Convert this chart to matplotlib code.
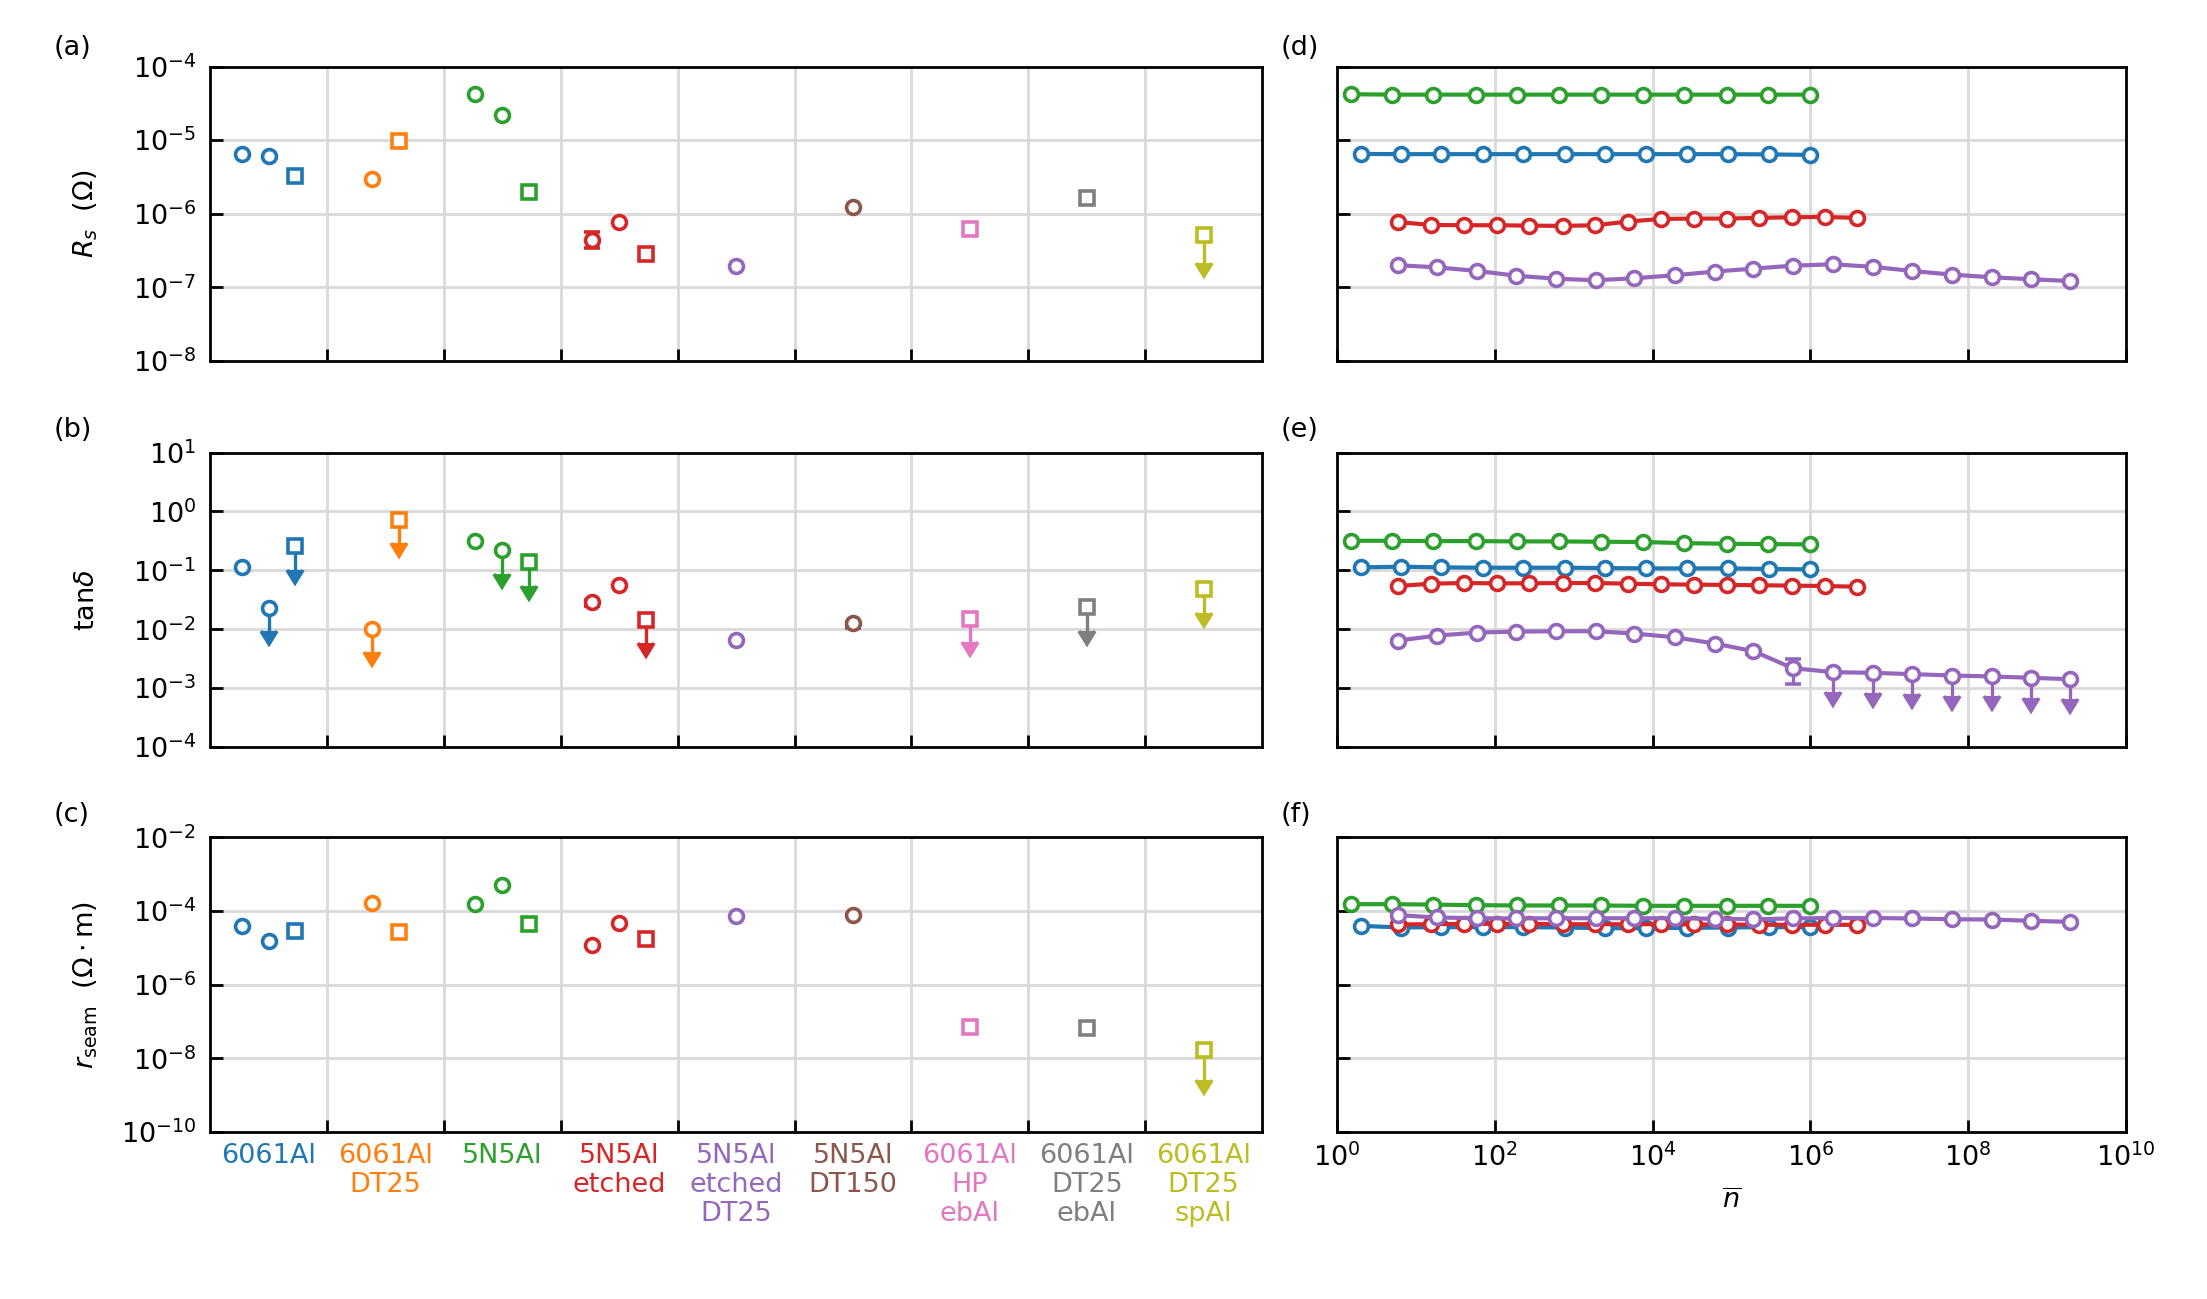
import numpy as np
import matplotlib
matplotlib.use("Agg")
import matplotlib.pyplot as plt
from matplotlib.ticker import NullLocator, FixedLocator

plt.rcParams['font.family'] = ['DejaVu Sans']
plt.rcParams['font.size'] = 19.5
plt.rcParams['mathtext.fontset'] = 'dejavusans'

# %% Data
categories = ['6061Al', '6061Al\nDT25', '5N5Al', '5N5Al\netched',
              '5N5Al\netched\nDT25', '5N5Al\nDT150', '6061Al\nHP\nebAl',
              '6061Al\nDT25\nebAl', '6061Al\nDT25\nspAl']
cat_colors = ['#1f77b4', '#ff7f0e', '#2ca02c', '#d62728', '#9467bd',
              '#8c564b', '#e377c2', '#7f7f7f', '#bcbd22']
cat_markers = [['o', 'o', 's'], ['o', 's'], ['o', 'o', 's'], ['o', 'o', 's'],
               ['o'], ['o'], ['s'], ['s'], ['s']]

rs_vals = [[6.5e-6, 6.0e-6, 3.3e-6], [3.0e-6, 9.8e-6], [4.2e-5, 2.18e-5, 1.95e-6],
           [4.4e-7, 7.7e-7, 2.8e-7], [1.98e-7], [1.23e-6], [6.25e-7], [1.62e-6], [5.2e-7]]
rs_uplim = [[0, 0, 0], [0, 0], [0, 0, 0], [0, 0, 0], [0], [0], [0], [0], [1]]
rs_bounds = {(3, 0): (3.4e-7, 5.6e-7)}

tan_vals = [[0.114, 0.0233, 0.258], [0.0102, 0.73], [0.314, 0.218, 0.138],
            [0.029, 0.0557, 0.0144], [0.0066], [0.0128], [0.0151], [0.0236], [0.048]]
tan_uplim = [[0, 1, 1], [1, 1], [0, 1, 1], [0, 0, 1], [0], [0], [1], [1], [1]]
tan_bounds = {(3, 0): (2.5e-2, 3.1e-2), (5, 0): (1.05e-2, 1.35e-2)}

rseam_vals = [[3.9e-5, 1.57e-5, 2.8e-5], [1.62e-4, 2.65e-5], [1.52e-4, 5.1e-4, 4.5e-5],
              [1.2e-5, 4.7e-5, 1.78e-5], [7.3e-5], [7.7e-5], [6.9e-8], [6.5e-8], [1.65e-8]]
rseam_uplim = [[0, 0, 0], [0, 0], [0, 0, 0], [0, 0, 0], [0], [0], [0], [0], [1]]
rseam_bounds = {}

# number of photons n-bar for the power sweeps
n_blue = [2.0, 6.5, 21, 71, 229, 776, 2510, 8300, 2.75e4, 9.1e4, 3.0e5, 1.0e6]
n_green = [1.5, 5.0, 16.7, 57, 190, 646, 2240, 7590, 2.5e4, 8.7e4, 2.9e5, 9.8e5]
n_red = [5.9, 15.5, 41, 107, 275, 724, 1860, 4900, 1.26e4, 3.3e4, 8.7e4, 2.24e5,
         5.9e5, 1.51e6, 3.9e6]
n_purple = [5.9, 18.6, 60, 186, 603, 1905, 5890, 1.9e4, 6.2e4, 1.9e5, 6.0e5, 1.95e6,
            6.2e6, 1.95e7, 6.2e7, 2.0e8, 6.2e8, 1.95e9]

rs_blue = [6.5e-6, 6.45e-6, 6.45e-6, 6.45e-6, 6.45e-6, 6.45e-6, 6.45e-6, 6.45e-6,
           6.45e-6, 6.45e-6, 6.4e-6, 6.3e-6]
rs_green = [4.2e-5, 4.15e-5, 4.15e-5, 4.15e-5, 4.15e-5, 4.15e-5, 4.15e-5, 4.15e-5,
            4.15e-5, 4.15e-5, 4.15e-5, 4.15e-5]
rs_red = [7.7e-7, 7.05e-7, 6.98e-7, 6.98e-7, 6.9e-7, 6.84e-7, 6.98e-7, 7.83e-7,
          8.5e-7, 8.6e-7, 8.6e-7, 8.78e-7, 8.96e-7, 9.05e-7, 8.78e-7]
rs_purple = [2.0e-7, 1.87e-7, 1.67e-7, 1.44e-7, 1.31e-7, 1.25e-7, 1.33e-7, 1.46e-7,
             1.64e-7, 1.80e-7, 1.97e-7, 2.06e-7, 1.90e-7, 1.67e-7, 1.49e-7, 1.37e-7,
             1.29e-7, 1.22e-7]

tan_blue = [0.1125, 0.1154, 0.1125, 0.111, 0.111, 0.111, 0.1095, 0.108, 0.108, 0.108,
            0.1055, 0.104]
tan_green = [0.318, 0.318, 0.314, 0.314, 0.31, 0.31, 0.306, 0.303, 0.29, 0.283, 0.279, 0.276]
tan_red = [0.0542, 0.0594, 0.061, 0.0602, 0.0602, 0.061, 0.061, 0.0594, 0.058, 0.0573,
           0.0566, 0.0559, 0.0551, 0.0542, 0.0528]
tan_purple = [0.00643, 0.00781, 0.00879, 0.00913, 0.00925, 0.00925, 0.00845, 0.00732,
              0.00571, 0.00424, 0.00218, 0.00187, 0.00182, 0.00173, 0.00164, 0.00158,
              0.0015, 0.00142]
tan_purple_uplim = [0] * 11 + [1] * 7
tan_purple_bounds = {0: (6.0e-3, 6.7e-3), 9: (3.85e-3, 4.5e-3), 10: (1.18e-3, 3.14e-3)}

rseam_blue = [3.98e-5, 3.58e-5, 3.66e-5, 3.66e-5, 3.66e-5, 3.58e-5, 3.43e-5, 3.43e-5,
              3.5e-5, 3.58e-5, 3.66e-5, 3.66e-5]
rseam_green = [1.54e-4, 1.54e-4, 1.5e-4, 1.45e-4, 1.42e-4, 1.42e-4, 1.42e-4, 1.39e-4,
               1.39e-4, 1.39e-4, 1.39e-4, 1.39e-4]
rseam_red = [4.33e-5, 4.4e-5, 4.5e-5, 4.5e-5, 4.5e-5, 4.4e-5, 4.4e-5, 4.4e-5, 4.4e-5,
             4.33e-5, 4.33e-5, 4.24e-5, 4.24e-5, 4.24e-5, 4.24e-5]
rseam_purple = [7.76e-5, 6.7e-5, 6.4e-5, 6.3e-5, 6.4e-5, 6.4e-5, 6.4e-5, 6.4e-5, 6.16e-5,
                6.0e-5, 6.3e-5, 6.5e-5, 6.5e-5, 6.3e-5, 6.0e-5, 5.9e-5, 5.44e-5, 5.1e-5]

# %% Styles
MS = 10
MEW = 2.6
CAP = 6
GRID = '#d9d9d9'


def style_axes(ax, ylim, yticks):
    ax.set_yscale('log')
    ax.set_ylim(*ylim)
    ax.set_yticks(yticks)
    ax.yaxis.set_minor_locator(NullLocator())
    for s in ax.spines.values():
        s.set_linewidth(2)
    ax.tick_params(which='major', direction='in', length=9, width=2, pad=10)
    ax.grid(True, which='major', color=GRID, lw=2)
    ax.set_axisbelow(True)


def left_panel(ax, vals, uplims, bounds, arrow_dec):
    for ci in range(len(vals)):
        vv = vals[ci]
        k = len(vv)
        offs = (np.arange(k) - (k - 1) / 2) * 0.23
        col = cat_colors[ci]
        for j in range(k):
            x = ci + 0.5 + offs[j]
            y = vv[j]
            if uplims[ci][j]:
                err = [[y * (1 - 10 ** -arrow_dec)], [0.0]]
                ax.errorbar([x], [y], yerr=err, uplims=[True], fmt=cat_markers[ci][j],
                            color=col, mfc='white', ms=MS, mew=MEW, elinewidth=2.4,
                            capsize=CAP, capthick=2.4)
            elif (ci, j) in bounds:
                lo, hi = bounds[(ci, j)]
                ax.errorbar([x], [y], yerr=[[y - lo], [hi - y]], fmt=cat_markers[ci][j],
                            color=col, mfc='white', ms=MS, mew=MEW, elinewidth=2.4,
                            capsize=CAP, capthick=2.4)
            else:
                ax.plot([x], [y], cat_markers[ci][j], color=col, mfc='white',
                        ms=MS, mew=MEW)
    ax.set_xlim(0, len(vals))
    ax.xaxis.set_major_locator(FixedLocator(np.arange(1, len(vals))))
    ax.xaxis.set_minor_locator(FixedLocator(np.arange(len(vals)) + 0.5))
    ax.tick_params(axis='x', which='major', labelbottom=False)
    ax.tick_params(axis='x', which='minor', length=0)
    ax.set_xticklabels([], minor=True)


def right_panel(ax, series):
    for n, y, col in series:
        ax.plot(n, y, '-o', color=col, lw=3, mfc='white', ms=MS, mew=MEW)
    ax.set_xscale('log')
    ax.set_xlim(1, 1e10)
    ax.set_xticks([1e0, 1e2, 1e4, 1e6, 1e8, 1e10])
    ax.xaxis.set_minor_locator(NullLocator())
    ax.tick_params(axis='x', labelbottom=False)
    ax.tick_params(axis='y', labelleft=False)


fig = plt.figure(figsize=(22.07, 12.99), dpi=100)
lw_, rw_ = 0.4767, 0.3575
lx, rx = 0.0952, 0.6058
rows = [0.7221, 0.4249, 0.1286]
h = 0.2267

ax_a = fig.add_axes([lx, rows[0], lw_, h])
ax_b = fig.add_axes([lx, rows[1], lw_, h])
ax_c = fig.add_axes([lx, rows[2], lw_, h])
ax_d = fig.add_axes([rx, rows[0], rw_, h])
ax_e = fig.add_axes([rx, rows[1], rw_, h])
ax_f = fig.add_axes([rx, rows[2], rw_, h])

lims = [((1e-8, 1e-4), [1e-8, 1e-7, 1e-6, 1e-5, 1e-4]),
        ((1e-4, 1e1), [1e-4, 1e-3, 1e-2, 1e-1, 1e0, 1e1]),
        ((1e-10, 1e-2), [1e-10, 1e-8, 1e-6, 1e-4, 1e-2])]

left_panel(ax_a, rs_vals, rs_uplim, rs_bounds, 0.38)
left_panel(ax_b, tan_vals, tan_uplim, tan_bounds, 0.4)
left_panel(ax_c, rseam_vals, rseam_uplim, rseam_bounds, 0.8)

right_panel(ax_d, [(n_blue, rs_blue, cat_colors[0]), (n_green, rs_green, cat_colors[2]),
                   (n_red, rs_red, cat_colors[3]), (n_purple, rs_purple, cat_colors[4])])
right_panel(ax_e, [(n_blue, tan_blue, cat_colors[0]), (n_green, tan_green, cat_colors[2]),
                   (n_red, tan_red, cat_colors[3])])
# purple loss tangent has error bars and upper limits
yp = np.array(tan_purple)
lo_err = np.zeros(len(yp))
hi_err = np.zeros(len(yp))
for i in range(len(yp)):
    if tan_purple_uplim[i]:
        lo_err[i] = yp[i] * (1 - 10 ** -0.34)
    elif i in tan_purple_bounds:
        lo_err[i] = yp[i] - tan_purple_bounds[i][0]
        hi_err[i] = tan_purple_bounds[i][1] - yp[i]
ax_e.errorbar(n_purple, yp, yerr=[lo_err, hi_err], uplims=np.array(tan_purple_uplim, bool),
              fmt='-o', color=cat_colors[4], lw=3, mfc='white', ms=MS, mew=MEW,
              elinewidth=2.4, capsize=CAP, capthick=2.4)
right_panel(ax_f, [(n_blue, rseam_blue, cat_colors[0]), (n_green, rseam_green, cat_colors[2]),
                   (n_red, rseam_red, cat_colors[3]), (n_purple, rseam_purple, cat_colors[4])])

for ax, (yl, yt) in zip([ax_a, ax_b, ax_c], lims):
    style_axes(ax, yl, yt)
for ax, (yl, yt) in zip([ax_d, ax_e, ax_f], lims):
    style_axes(ax, yl, yt)
    ax.tick_params(axis='y', labelleft=False)

ax_a.set_ylabel(r'$R_s$  ($\Omega$)')
ax_b.set_ylabel(r'tan$\delta$')
ax_c.set_ylabel(r'$r_\mathrm{seam}$  ($\Omega\cdot$m)')
for ax in [ax_a, ax_b, ax_c]:
    ax.yaxis.set_label_coords(-0.105, 0.5)

# category labels under (c)
ax_c.set_xticklabels(categories, minor=True)
ax_c.tick_params(axis='x', which='minor', labelbottom=True, pad=8)
for lab, col in zip(ax_c.get_xticklabels(minor=True), cat_colors):
    lab.set_color(col)
    lab.set_linespacing(1.15)
    lab.set_verticalalignment('top')

ax_f.tick_params(axis='x', labelbottom=True, pad=8)
ax_f.set_xlabel(r'$\overline{n}$', labelpad=12)

for lbl, x, y in [('(a)', 54, 48), ('(b)', 54, 430), ('(c)', 54, 815),
                  ('(d)', 1281, 48), ('(e)', 1281, 430), ('(f)', 1281, 815)]:
    fig.text(x / 2207, 1 - y / 1299, lbl, ha='left', va='center')

fig.savefig('out.png', dpi=100)
